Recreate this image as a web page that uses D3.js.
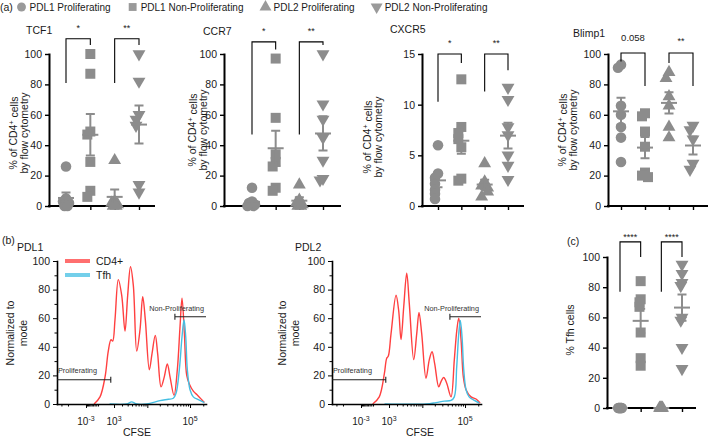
<!DOCTYPE html>
<html>
<head>
<meta charset="utf-8">
<script src="https://cdnjs.cloudflare.com/ajax/libs/d3/7.8.5/d3.min.js"></script>
<style>
	body { margin:0; background:#fff; }
	svg { display:block; font-family:"Liberation Sans", Arial, sans-serif; fill:#1a1a1a; }
	.axis .domain { stroke:#000; stroke-width:2; stroke-linecap:square; }
	.axis .tick line { stroke:#000; stroke-width:1.4; }
	.axis text { fill:#1a1a1a; font-size:10.5px; font-family:"Liberation Sans", Arial, sans-serif; }
	.thin .domain { stroke-width:1.6; }
	.thin .tick line { stroke-width:1; }
</style>
</head>
<body>
<svg width="709" height="438"></svg>
<script>
(function() {

	// DATA
	var groupNames = ['PDL1 Proliferating', 'PDL1 Non-Proliferating', 'PDL2 Proliferating', 'PDL2 Non-Proliferating'];

	var tcf1Values = [
		[26, 5, 3, 2, 1, 0, 0],
		[100, 87, 49, 47, 29, 10, 6],
		[30, 3, 2, 1, 0, 0],
		[100, 82, 60, 57, 53, 14, 9]
	];
	var ccr7Values = [
		[12, 3, 2, 1, 1, 0, 0],
		[97, 58, 34, 29, 26, 12, 10],
		[14, 4, 2, 1, 0, 0],
		[100, 67, 57, 45, 30, 18, 17]
	];
	var cxcr5Values = [
		[6.0, 3.2, 2.8, 2.2, 1.6, 1.2, 0.7],
		[12.5, 7.8, 7.2, 6.6, 5.8, 2.7, 2.5],
		[4.2, 2.4, 2.0, 1.8, 1.4, 0.9],
		[11.7, 10.5, 7.8, 7.0, 5.0, 4.0, 2.6]
	];
	var blimp1Values = [
		[93, 91, 66, 60, 52, 45, 29],
		[61, 59, 49, 39, 22, 20, 19],
		[88, 84, 72, 66, 52, 45],
		[53, 50, 44, 28, 24]
	];
	var tfhValues = [
		[0, 0, 0, 0, 0, 0, 0],
		[84, 72, 70, 67, 50, 33, 28],
		[0, 0, 0, 0, 0, 0],
		[95, 89, 83, 81, 60, 58, 40, 26]
	];

	var tcf1Stars = ['*', '**'];
	var ccr7Stars = ['*', '**'];
	var cxcr5Stars = ['*', '**'];
	var blimp1Stars = ['0.058', '**'];
	var tfhStars = ['****', '****'];

	var percentTicks = [0, 20, 40, 60, 80, 100];
	var percentMinorTicks = [10, 30, 50, 70, 90];
	var cxcr5Ticks = [0, 5, 10, 15];

	// flow histograms: [CFSE, % of mode]
	var pdl1Cd4 = [[-340, 0], [0, 5], [280, 19], [500, 37], [720, 45], [870, 44], [1100, 59], [1480, 87], [1950, 76],
		[2490, 51], [3000, 76], [3620, 96], [4340, 83], [5360, 37], [6540, 52], [7670, 75], [8910, 59], [11200, 24],
		[13000, 35], [15600, 48], [17800, 35], [21400, 12], [25500, 19], [30000, 28], [34700, 19], [43000, 6],
		[51200, 24], [59000, 54], [65600, 74], [74100, 50], [84100, 20], [96400, 14], [119000, 9], [150000, 6],
		[185000, 3], [212000, 1]];
	var pdl1Tfh = [[600, 0], [2800, 0], [3900, 1.5], [5360, 0], [9660, 0], [20200, 2.4], [31700, 3.3], [41400, 4],
		[47800, 7.5], [56900, 24], [65600, 47], [72900, 59], [79800, 47], [86800, 24], [100000, 10], [119000, 5],
		[155000, 3], [212000, 1]];
	var pdl2Cd4 = [[-120, 0], [230, 5], [580, 21], [780, 32], [930, 33.5], [1210, 49], [1850, 76], [2270, 65],
		[2670, 45], [3220, 68], [3920, 91.5], [4620, 70], [6050, 31], [7230, 49], [8270, 64], [9660, 49], [12300, 18],
		[14800, 31], [17200, 36.5], [19900, 28], [24700, 12], [28000, 15.7], [32400, 18.5], [38000, 14.5], [47800, 5],
		[56900, 31], [64600, 51], [71800, 60], [81100, 45], [91500, 19], [105500, 10], [137000, 5], [178000, 3.5],
		[220000, 0.7]];
	var pdl2Tfh = [[600, 0], [12300, 0], [21400, 1], [33400, 2], [47800, 2.5], [56900, 5], [64600, 26], [71800, 49],
		[78100, 58.5], [85500, 47], [93500, 24], [105500, 10], [124000, 5], [163000, 2.5], [212000, 0.7]];

	var flowSeries = ['CD4+', 'Tfh'];
	var cfseDomain = [-7800, 231000];
	var cfseMajorTicks = [-1000, 1000, 10000, 100000];
	var cfseMinorTicks = [-6000, -4000, -900, -800, -700, -600, -500, -400, -300, -200, -100,
		2000, 3000, 4000, 5000, 6000, 7000, 8000, 9000,
		20000, 30000, 40000, 50000, 60000, 70000, 80000, 90000, 200000];
	var cfseLabelTicks = [-1000, 1000, 100000];
	var cfseLabelExponents = ['-3', '3', '5'];

	var gateNames = ['Proliferating', 'Non-Proliferating'];
	var proliferatingGate = [cfseDomain[0], 700, 17];
	var nonProliferatingGate = [45000, cfseDomain[1], 61];

	// VARS
	var svg = d3.select('svg');
	var markerColor = '#8c8c8c';
	var red = '#ff4040';
	var blue = '#45bfe3';
	var offsets = [0, -3, 3, -1.5, 1.5, -4.5, 4.5];
	var symbols = [d3.symbolCircle, d3.symbolSquare, d3.symbolTriangle, d3.symbolTriangle];
	var symbolSizes = [88, 100, 72, 72];

	var scatterPanels = [
		{ title:'TCF1', titleX:26, titleY:34, values:tcf1Values, stars:tcf1Stars, max:100, ticks:percentTicks,
			axisX:49, endX:154, cats:[66, 139], top:54, bottom:206, spread:1,
			labelX:[13, 24], labelY:133, bracketTop:110, legs:[[81, 106], [81, 106]], starGap:8 },
		{ title:'CCR7', titleX:203, titleY:35, values:ccr7Values, stars:ccr7Stars, max:100, ticks:percentTicks,
			axisX:224, endX:340, cats:[252, 323], top:54, bottom:206, spread:1,
			labelX:[192, 203], labelY:130, bracketTop:108, legs:[[47, 103], [47, 106]], starGap:8 },
		{ title:'CXCR5', titleX:390, titleY:33, values:cxcr5Values, stars:cxcr5Stars, max:15, ticks:cxcr5Ticks,
			axisX:422, endX:523, cats:[438, 508], top:54, bottom:206, spread:1,
			labelX:[367, 378], labelY:137, bracketTop:15, legs:[[10.3, 14.1], [11.3, 13.4]], starGap:8 },
		{ title:'Blimp1', titleX:573, titleY:37, values:blimp1Values, stars:blimp1Stars, max:100, ticks:percentTicks,
			axisX:608, endX:707, cats:[621, 693], top:54, bottom:206, spread:1,
			labelX:[562, 573], labelY:130, bracketTop:100.7, legs:[[95, 79], [94, 79]], starGap:9 },
		{ title:'', values:tfhValues, stars:tfhStars, max:100, ticks:percentTicks,
			axisX:607, endX:695, cats:[620, 682], top:257, bottom:408, spread:0.4,
			labelX:[570], labelY:330, bracketTop:110, legs:[[77, 100], [77, 100]], starGap:2, oneLine:'% Tfh cells' }
	];

	var flowPanels = [
		{ title:'PDL1', titleX:17, x0:57, cd4:pdl1Cd4, tfh:pdl1Tfh, labelX:[10, 23], cfseX:137, legend:true },
		{ title:'PDL2', titleX:295, x0:332, cd4:pdl2Cd4, tfh:pdl2Tfh, labelX:[282, 295], cfseX:420, legend:false }
	];

	// HELPERS
	function symbolPath(i, size) {
		return d3.symbol().type(symbols[i]).size(size)();
	}

	function dodge(vals, y, spread) {
		var placed = [];
		return vals.map(function(v) {
			var py = y(v);
			var n = placed.filter(function(p) { return Math.abs(p - py) < 7; }).length;
			placed.push(py);
			return { value:v, dx:offsets[n % offsets.length] * spread };
		});
	}

	function rotatedLabel(g, x, y, size) {
		return g.append('text')
			.attr('transform', 'translate(' + x + ',' + y + ') rotate(-90)')
			.attr('text-anchor', 'middle')
			.attr('dy', '0.35em')
			.style('font-size', size + 'px');
	}

	// TOP LEGEND
	function drawLegend() {
		svg.append('text').attr('x', 0).attr('y', 11).style('font-size', '10.5px').text('(a)');
		var cursor = 17.5;
		groupNames.forEach(function(name, i) {
			svg.append('path')
				.attr('d', symbolPath(i, 62))
				.attr('transform', 'translate(' + (cursor + 4) + ',7)' + (i === 3 ? ' rotate(180)' : ''))
				.attr('fill', '#9a9a9a');
			var t = svg.append('text')
				.attr('x', cursor + 12)
				.attr('y', 11)
				.style('font-size', '10px')
				.text(name);
			cursor = cursor + 12 + t.node().getComputedTextLength() + 18;
		});
	}

	// SCATTER PANELS
	function drawScatter(p) {
		var g = svg.append('g');
		var y = d3.scaleLinear().domain([0, p.max]).range([p.bottom, p.top]);
		var x = d3.scalePoint().domain(d3.range(4)).range(p.cats);

		g.append('g')
			.attr('class', 'axis')
			.attr('transform', 'translate(' + p.axisX + ',0)')
			.call(d3.axisLeft(y).tickValues(p.ticks).tickSize(4).tickSizeOuter(0).tickPadding(3));

		var xAxis = g.append('g')
			.attr('class', 'axis')
			.attr('transform', 'translate(0,' + p.bottom + ')')
			.call(d3.axisBottom(x).tickSize(4).tickFormat(''));
		xAxis.select('.domain').attr('d', 'M' + p.axisX + ',0H' + p.endX);

		p.values.forEach(function(vals, i) {
			var pts = dodge(vals, y, p.spread);
			g.selectAll(null)
				.data(pts)
				.enter()
				.append('path')
				.attr('d', symbolPath(i, symbolSizes[i]))
				.attr('fill', markerColor)
				.attr('transform', function(d) {
					return 'translate(' + (x(i) + d.dx) + ',' + y(d.value) + ')' + (i === 3 ? ' rotate(180)' : '');
				});

			var m = d3.mean(vals);
			var se = d3.deviation(vals) / Math.sqrt(vals.length);
			var cx = x(i);
			var bars = g.append('g')
				.attr('stroke', markerColor)
				.attr('stroke-width', 2)
				.attr('fill', 'none');
			bars.append('path').attr('d', 'M' + (cx - 8) + ',' + y(m) + 'H' + (cx + 8));
			if (se > 0) {
				bars.append('path').attr('d',
					'M' + cx + ',' + y(m - se) + 'V' + y(m + se) +
					'M' + (cx - 4.5) + ',' + y(m + se) + 'H' + (cx + 4.5) +
					'M' + (cx - 4.5) + ',' + y(m - se) + 'H' + (cx + 4.5));
			}
		});

		p.legs.forEach(function(leg, k) {
			var a = x(k * 2);
			var b = x(k * 2 + 1);
			var top = y(p.bracketTop);
			g.append('path')
				.attr('d', 'M' + a + ',' + y(leg[0]) + 'V' + top + 'H' + b + 'V' + y(leg[1]))
				.attr('fill', 'none')
				.attr('stroke', '#000')
				.attr('stroke-width', 1.1);
			var isStar = p.stars[k].indexOf('*') === 0;
			g.append('text')
				.attr('x', (a + b) / 2)
				.attr('y', top - (isStar ? p.starGap : p.starGap + 3))
				.attr('text-anchor', 'middle')
				.style('font-size', isStar ? '9px' : '9.5px')
				.text(p.stars[k]);
		});

		if (p.title) {
			g.append('text')
				.attr('x', p.titleX)
				.attr('y', p.titleY)
				.style('font-size', '10.5px')
				.text(p.title);
		}

		if (p.oneLine) {
			rotatedLabel(g, p.labelX[0], p.labelY, 10.5).text(p.oneLine);
		} else {
			var l1 = rotatedLabel(g, p.labelX[0], p.labelY, 10.5);
			l1.append('tspan').text('% of CD4');
			l1.append('tspan').attr('dy', '-0.4em').style('font-size', '7px').text('+');
			l1.append('tspan').attr('dy', '0.4em').text(' cells');
			rotatedLabel(g, p.labelX[1], p.labelY, 10.5).text('by flow cytometry');
		}
	}

	// FLOW PANELS
	function drawFlow(p) {
		var g = svg.append('g');
		var x = d3.scaleSymlog().constant(930).domain(cfseDomain).range([p.x0, p.x0 + 149]);
		var y = d3.scaleLinear().domain([0, 100]).range([404, 261]);

		var line = d3.line()
			.x(function(d) { return x(d[0]); })
			.y(function(d) { return y(d[1]); })
			.curve(d3.curveCatmullRom.alpha(0.5));

		g.append('path').datum(p.cd4)
			.attr('d', line).attr('fill', 'none').attr('stroke', red).attr('stroke-width', 1.4);
		g.append('path').datum(p.tfh)
			.attr('d', line).attr('fill', 'none').attr('stroke', blue).attr('stroke-width', 1.4);

		g.append('g')
			.attr('class', 'axis thin')
			.attr('transform', 'translate(' + p.x0 + ',0)')
			.call(d3.axisLeft(y).tickValues(percentTicks).tickSize(4).tickSizeOuter(0).tickPadding(3));
		g.append('g')
			.attr('class', 'axis thin')
			.attr('transform', 'translate(' + p.x0 + ',0)')
			.call(d3.axisLeft(y).tickValues(percentMinorTicks).tickSize(2.5).tickFormat(''))
			.select('.domain').remove();

		g.append('g')
			.attr('class', 'axis thin')
			.attr('transform', 'translate(0,404)')
			.call(d3.axisBottom(x).tickValues(cfseMajorTicks).tickSize(4).tickSizeOuter(0).tickFormat(''));
		g.append('g')
			.attr('class', 'axis thin')
			.attr('transform', 'translate(0,404)')
			.call(d3.axisBottom(x).tickValues(cfseMinorTicks).tickSize(2.5).tickFormat(''))
			.select('.domain').remove();

		cfseLabelTicks.forEach(function(v, i) {
			var t = g.append('text')
				.attr('x', x(v))
				.attr('y', 425)
				.attr('text-anchor', 'middle')
				.style('font-size', '10px');
			t.append('tspan').text('10');
			t.append('tspan').attr('dy', -4.5).style('font-size', '7px').text(cfseLabelExponents[i]);
		});

		// gates
		var gates = g.append('g').attr('stroke', '#222').attr('stroke-width', 1.1).attr('fill', 'none');
		var py = y(proliferatingGate[2]);
		var px = x(proliferatingGate[1]);
		gates.append('path').attr('d', 'M' + x(proliferatingGate[0]) + ',' + py + 'H' + px + 'M' + px + ',' + (py - 3) + 'V' + (py + 3));
		var ny = y(nonProliferatingGate[2]);
		var nx = x(nonProliferatingGate[0]);
		gates.append('path').attr('d', 'M' + nx + ',' + (ny - 3) + 'V' + (ny + 3) + 'M' + nx + ',' + ny + 'H' + x(nonProliferatingGate[1]));

		g.append('text')
			.attr('x', p.x0 + 1)
			.attr('y', py - 7)
			.style('font-size', '7.3px')
			.style('fill', '#333')
			.text(gateNames[0]);
		g.append('text')
			.attr('x', x(nonProliferatingGate[1]) - 2)
			.attr('y', ny - 6)
			.attr('text-anchor', 'end')
			.style('font-size', '7.3px')
			.style('fill', '#333')
			.text(gateNames[1]);

		g.append('text')
			.attr('x', p.titleX)
			.attr('y', 251)
			.style('font-size', '10.5px')
			.text(p.title);

		g.append('text')
			.attr('x', p.cfseX)
			.attr('y', 436)
			.attr('text-anchor', 'middle')
			.style('font-size', '10.5px')
			.text('CFSE');

		rotatedLabel(g, p.labelX[0], 333, 10.5).text('Normalized to');
		rotatedLabel(g, p.labelX[1], 333, 10.5).text('mode');

		if (p.legend) {
			[red, blue].forEach(function(c, i) {
				var ly = 261 + i * 14;
				g.append('line')
					.attr('x1', 65).attr('x2', 90)
					.attr('y1', ly).attr('y2', ly)
					.attr('stroke', c).attr('stroke-width', 4).attr('opacity', 0.75);
				g.append('text')
					.attr('x', 96)
					.attr('y', ly + 4)
					.style('font-size', '10.5px')
					.text(flowSeries[i]);
			});
		}
	}

	function init() {
		drawLegend();
		scatterPanels.forEach(drawScatter);
		flowPanels.forEach(drawFlow);
		svg.append('text').attr('x', 2).attr('y', 244).style('font-size', '10.5px').text('(b)');
		svg.append('text').attr('x', 567).attr('y', 245).style('font-size', '10.5px').text('(c)');
	}

	init();
})();
</script>
</body>
</html>
